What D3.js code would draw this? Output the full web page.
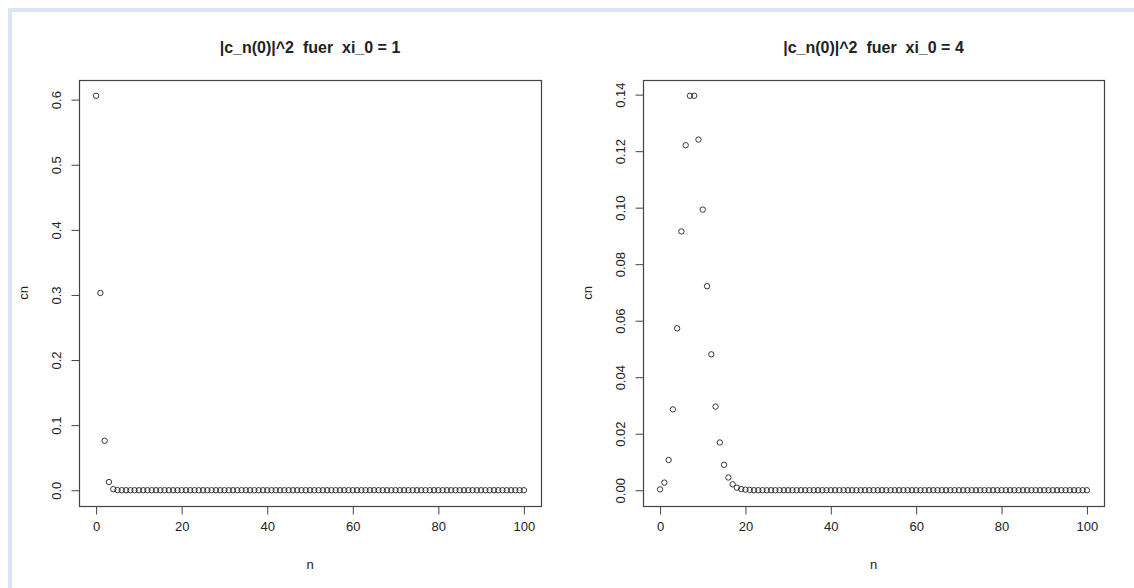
<!DOCTYPE html>
<html>
<head>
<meta charset="utf-8">
<script src="https://cdn.jsdelivr.net/npm/d3@7"></script>
<style>
  body { margin: 0; background: #fff; }
  text { font-family: "Liberation Sans", Arial, sans-serif; fill: #222; }
</style>
</head>
<body>
<div id="chart"></div>
<script>
// n = 0..100
var nValues = d3.range(0, 101);

// |c_n(0)|^2 for xi_0 = 1
var cnXi1 = [
  0.606, 0.303, 0.076, 0.0126, 0.0016, 0.0002, 0, 0, 0, 0,
  0, 0, 0, 0, 0, 0, 0, 0, 0, 0,
  0, 0, 0, 0, 0, 0, 0, 0, 0, 0,
  0, 0, 0, 0, 0, 0, 0, 0, 0, 0,
  0, 0, 0, 0, 0, 0, 0, 0, 0, 0,
  0, 0, 0, 0, 0, 0, 0, 0, 0, 0,
  0, 0, 0, 0, 0, 0, 0, 0, 0, 0,
  0, 0, 0, 0, 0, 0, 0, 0, 0, 0,
  0, 0, 0, 0, 0, 0, 0, 0, 0, 0,
  0, 0, 0, 0, 0, 0, 0, 0, 0, 0,
  0
];

// |c_n(0)|^2 for xi_0 = 4
var cnXi4 = [
  0.0003, 0.0027, 0.0107, 0.0286, 0.0573, 0.0916, 0.1221, 0.1396, 0.1396, 0.1241,
  0.0993, 0.0722, 0.0481, 0.0296, 0.0169, 0.0090, 0.0045, 0.0021, 0.0009, 0.0004,
  0.0002, 0.0001, 0, 0, 0, 0, 0, 0, 0, 0,
  0, 0, 0, 0, 0, 0, 0, 0, 0, 0,
  0, 0, 0, 0, 0, 0, 0, 0, 0, 0,
  0, 0, 0, 0, 0, 0, 0, 0, 0, 0,
  0, 0, 0, 0, 0, 0, 0, 0, 0, 0,
  0, 0, 0, 0, 0, 0, 0, 0, 0, 0,
  0, 0, 0, 0, 0, 0, 0, 0, 0, 0,
  0, 0, 0, 0, 0, 0, 0, 0, 0, 0,
  0
];

var xTicks = [0, 20, 40, 60, 80, 100];
var yTicks1 = [0.0, 0.1, 0.2, 0.3, 0.4, 0.5, 0.6];
var yTicks4 = [0.00, 0.02, 0.04, 0.06, 0.08, 0.10, 0.12, 0.14];

var titles = ["|c_n(0)|^2  fuer  xi_0 = 1", "|c_n(0)|^2  fuer  xi_0 = 4"];

var width = 1134, height = 588;

var svg = d3.select("#chart").append("svg")
    .attr("width", width)
    .attr("height", height);

// window frame from the screenshot
svg.append("rect").attr("x", 8).attr("y", 8).attr("width", width - 8).attr("height", 4).attr("fill", "#dae6f4");
svg.append("rect").attr("x", 8).attr("y", 8).attr("width", 4).attr("height", height - 8).attr("fill", "#dae6f4");

// R style: extend the range by 4% on each side
function rRange(lo, hi) {
  var d = (hi - lo) * 0.04;
  return [lo - d, hi + d];
}

function drawPanel(left, right, values, yTicks, yFmt, title) {
  var top = 80, bottom = 506;

  var x = d3.scaleLinear()
      .domain(rRange(0, 100))
      .range([left, right]);

  var y = d3.scaleLinear()
      .domain(rRange(d3.min(values), d3.max(values)))
      .range([bottom, top]);

  var g = svg.append("g");

  // box
  g.append("rect")
      .attr("x", left + 0.5).attr("y", top + 0.5)
      .attr("width", right - left).attr("height", bottom - top)
      .attr("fill", "none").attr("stroke", "#444").attr("stroke-width", 1.2);

  // x axis
  g.append("g")
      .attr("transform", "translate(0," + (bottom + 0.5) + ")")
      .call(d3.axisBottom(x).tickValues(xTicks).tickSize(8).tickPadding(7).tickFormat(d3.format("d")))
      .call(function(a) {
        a.select(".domain").remove();
        a.selectAll("line").attr("stroke", "#444");
        a.selectAll("text").attr("font-size", 13).attr("fill", "#222")
          .style("font-family", "'Liberation Sans', Arial, sans-serif");
      });

  // y axis
  var ya = g.append("g")
      .attr("transform", "translate(" + (left + 0.5) + ",0)")
      .call(d3.axisLeft(y).tickValues(yTicks).tickSize(8).tickFormat(d3.format(yFmt)));
  ya.select(".domain").remove();
  ya.selectAll("line").attr("stroke", "#444");
  ya.selectAll("text")
      .attr("x", null).attr("dy", null)
      .attr("text-anchor", "middle")
      .attr("font-size", 13).attr("fill", "#222")
      .style("font-family", "'Liberation Sans', Arial, sans-serif")
      .attr("transform", "translate(-19,0) rotate(-90)");

  // points
  g.append("g").selectAll("circle")
      .data(values)
      .enter().append("circle")
      .attr("cx", function(d, i) { return x(nValues[i]); })
      .attr("cy", function(d) { return y(d); })
      .attr("r", 2.7)
      .attr("fill", "none")
      .attr("stroke", "#222")
      .attr("stroke-width", 0.9);

  var cx = (left + right) / 2;

  g.append("text")
      .attr("x", cx).attr("y", 53)
      .attr("text-anchor", "middle")
      .attr("font-size", 16).attr("font-weight", "bold")
      .style("white-space", "pre")
      .text(title);

  g.append("text")
      .attr("x", cx).attr("y", 569)
      .attr("text-anchor", "middle")
      .attr("font-size", 13)
      .text("n");

  g.append("text")
      .attr("transform", "translate(" + (left - 51) + "," + ((top + bottom) / 2) + ") rotate(-90)")
      .attr("text-anchor", "middle")
      .attr("font-size", 13)
      .text("cn");
}

drawPanel(79, 541, cnXi1, yTicks1, ".1f", titles[0]);
drawPanel(643, 1104, cnXi4, yTicks4, ".2f", titles[1]);
</script>
</body>
</html>
